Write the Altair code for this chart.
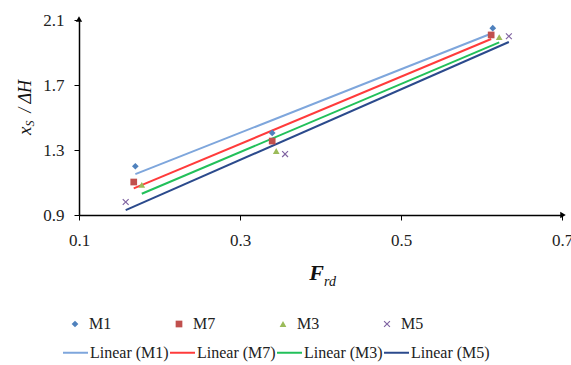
import altair as alt
import pandas as pd

series = ["M1", "M7", "M3", "M5"]
x_M1 = [0.170, 0.340, 0.614]
y_M1 = [1.200, 1.405, 2.050]
x_M7 = [0.168, 0.340, 0.612]
y_M7 = [1.103, 1.355, 2.008]
x_M3 = [0.178, 0.345, 0.622]
y_M3 = [1.085, 1.294, 1.995]
x_M5 = [0.158, 0.356, 0.634]
y_M5 = [0.980, 1.275, 2.000]

x_ticks = [0.1, 0.3, 0.5, 0.7]
y_ticks = [0.9, 1.3, 1.7, 2.1]

marker_colors = ["#4F81BD", "#C0504D", "#9BBB59", "#8064A2"]
x_path = "M-1,-0.75L-0.75,-1L0,-0.25L0.75,-1L1,-0.75L0.25,0L1,0.75L0.75,1L0,0.25L-0.75,1L-1,0.75L-0.25,0Z"
marker_shapes = ["diamond", "square", "triangle-up", x_path]
line_labels = ["Linear (M1)", "Linear (M7)", "Linear (M3)", "Linear (M5)"]
line_colors = ["#7EA6DC", "#FF3B3B", "#22C05A", "#2B4A8C"]

x_title_main = "F"
x_title_sub = "rd"
y_title_main = "x"
y_title_sub = "S"
y_title_rest = "/ ΔH"

rows = []
for s, xs, ys in [("M1", x_M1, y_M1), ("M7", x_M7, y_M7), ("M3", x_M3, y_M3), ("M5", x_M5, y_M5)]:
    for a, b in zip(xs, ys):
        rows.append({"series": s, "x": a, "y": b})
df = pd.DataFrame(rows)

FONT = "Liberation Serif, Times New Roman, serif"
W, H = 483, 195

xs = alt.Scale(domain=[0.1, 0.7], nice=False)
ys = alt.Scale(domain=[0.9, 2.1], nice=False)
xaxis = alt.Axis(values=x_ticks, format=".1f", title=None, grid=False, tickSize=5,
                 labelPadding=12, labelFont=FONT, labelFontSize=17, labelColor="#222",
                 domainColor="black", domainWidth=1.5, tickColor="black", labelFlush=False)
yaxis = alt.Axis(values=y_ticks, format=".1f", title=None, grid=False, tickSize=5,
                 labelPadding=10, labelFont=FONT, labelFontSize=17, labelColor="#222",
                 domainColor="black", domainWidth=1.5, tickColor="black", labelFlush=False)

pt_legend = alt.Legend(orient="none", legendX=-12, legendY=296, direction="horizontal",
                       columns=4, columnPadding=59, title=None, labelFont=FONT,
                       labelFontSize=16, labelColor="#222", symbolSize=45, padding=0,
                       labelOffset=6)
ln_legend = alt.Legend(orient="none", legendX=-17, legendY=319, direction="horizontal",
                       columns=4, columnPadding=-5, title=None, labelFont=FONT,
                       labelFontSize=16, labelColor="#222", symbolSize=625,
                       symbolStrokeWidth=2, symbolType="stroke", padding=0, labelOffset=1)

lines = alt.Chart(df).transform_regression(
    "x", "y", groupby=["series"]
).transform_calculate(
    lab="'Linear (' + datum.series + ')'"
).mark_line(strokeWidth=2).encode(
    x=alt.X("x:Q", scale=xs, axis=xaxis),
    y=alt.Y("y:Q", scale=ys, axis=yaxis),
    stroke=alt.Stroke("lab:N", scale=alt.Scale(domain=line_labels, range=line_colors),
                      legend=ln_legend),
    detail="series:N",
)

points = alt.Chart(df).mark_point(filled=True, size=45, opacity=1).encode(
    x=alt.X("x:Q", scale=xs),
    y=alt.Y("y:Q", scale=ys),
    color=alt.Color("series:N", scale=alt.Scale(domain=series, range=marker_colors),
                    legend=pt_legend),
    shape=alt.Shape("series:N", scale=alt.Scale(domain=series, range=marker_shapes),
                    legend=pt_legend),
)

arrow_df = pd.DataFrame({"k": [0]})
arrow_up = alt.Chart(arrow_df).mark_point(shape="triangle-up", filled=True, color="black",
                                          size=40, opacity=1).encode(
    x=alt.value(0), y=alt.value(-1))
arrow_right = alt.Chart(arrow_df).mark_point(shape="triangle-right", filled=True, color="black",
                                             size=40, opacity=1).encode(
    x=alt.value(W + 1), y=alt.value(H))

xt1 = alt.Chart(pd.DataFrame({"t": [x_title_main]})).mark_text(
    font=FONT, fontSize=22, fontStyle="italic", fontWeight="bold", align="right",
    baseline="alphabetic", color="#111").encode(
    text="t:N", x=alt.value(245), y=alt.value(260))
xt2 = alt.Chart(pd.DataFrame({"t": [x_title_sub]})).mark_text(
    font=FONT, fontSize=14, fontStyle="italic", align="left",
    baseline="alphabetic", color="#111").encode(
    text="t:N", x=alt.value(245), y=alt.value(266))

yt1 = alt.Chart(pd.DataFrame({"t": [y_title_main]})).mark_text(
    font=FONT, fontSize=19, fontStyle="italic", align="left", angle=270,
    baseline="alphabetic", color="#111").encode(
    text="t:N", x=alt.value(-48), y=alt.value(115))
yt2 = alt.Chart(pd.DataFrame({"t": [y_title_sub]})).mark_text(
    font=FONT, fontSize=12, fontStyle="italic", align="left", angle=270,
    baseline="alphabetic", color="#111").encode(
    text="t:N", x=alt.value(-45), y=alt.value(106.5))
yt3 = alt.Chart(pd.DataFrame({"t": [y_title_rest]})).mark_text(
    font=FONT, fontSize=18, fontStyle="italic", align="right", angle=270,
    baseline="alphabetic", color="#111").encode(
    text="t:N", x=alt.value(-48), y=alt.value(60))

chart = alt.layer(lines, points, arrow_up, arrow_right, xt1, xt2, yt1, yt2, yt3).properties(
    width=W, height=H,
    autosize=alt.AutoSizeParams(type="none"),
    padding={"left": 79, "top": 20, "right": 9, "bottom": 150},
    background="white",
).resolve_scale(
    color="independent", shape="independent", stroke="independent"
).configure_view(stroke=None)

chart.save("out.html", embed_options={"renderer": "svg", "actions": False})
